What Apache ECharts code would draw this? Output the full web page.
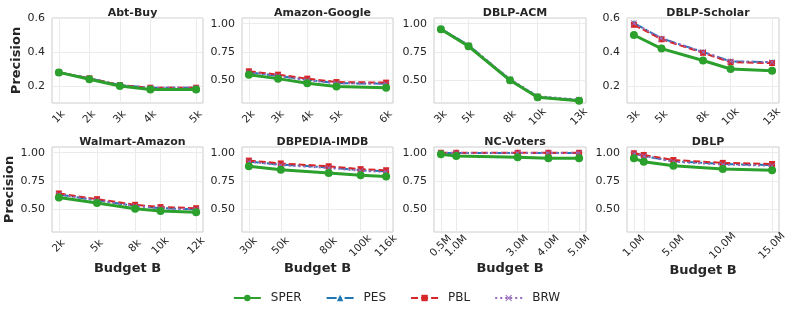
<!DOCTYPE html>
<html><head><meta charset="utf-8">
<script src="https://cdn.jsdelivr.net/npm/echarts@6/dist/echarts.min.js"></script>
<style>html,body{margin:0;padding:0;background:#fff}#c{width:793px;height:312px}</style>
</head><body><div id="c"></div>
<script>
const datasets = ['Abt-Buy','Amazon-Google','DBLP-ACM','DBLP-Scholar','Walmart-Amazon','DBPEDIA-IMDB','NC-Voters','DBLP'];
const budgets = [
  [1,2,3,4,5.5],
  [2,3,4,5,6.7],
  [3,5,8,10,13],
  [3,5,8,10,13],
  [2,5,8,10,12.8],
  [30,50,80,100,116],
  [0.5,1,3,4,5],
  [1,2,5,10,15]
];
const tickLabels = [
  ['1k','2k','3k','4k','5k'],
  ['2k','3k','4k','5k','6k'],
  ['3k','5k','8k','10k','13k'],
  ['3k','5k','8k','10k','13k'],
  ['2k','5k','8k','10k','12k'],
  ['30k','50k','80k','100k','116k'],
  ['0.5M','1.0M','3.0M','4.0M','5.0M'],
  ['1.0M','2.0M','5.0M','10.0M','15.0M']
];
const sper = [
  [0.28,0.24,0.20,0.18,0.18],
  [0.55,0.515,0.475,0.445,0.435],
  [0.95,0.80,0.50,0.35,0.32],
  [0.50,0.42,0.35,0.30,0.29],
  [0.605,0.555,0.505,0.485,0.475],
  [0.88,0.85,0.82,0.80,0.79],
  [0.985,0.97,0.96,0.95,0.95],
  [0.95,0.92,0.885,0.855,0.845]
];
const pes = [
  [0.28,0.245,0.205,0.19,0.19],
  [0.57,0.54,0.505,0.475,0.47],
  [0.955,0.81,0.505,0.355,0.325],
  [0.57,0.48,0.40,0.345,0.34],
  [0.63,0.58,0.53,0.51,0.50],
  [0.92,0.895,0.87,0.845,0.835],
  [0.998,0.998,0.998,0.998,0.998],
  [0.99,0.97,0.925,0.90,0.89]
];
const pbl = [
  [0.28,0.245,0.205,0.19,0.19],
  [0.58,0.55,0.515,0.485,0.48],
  [0.95,0.80,0.50,0.35,0.32],
  [0.56,0.475,0.395,0.34,0.335],
  [0.64,0.59,0.54,0.52,0.51],
  [0.93,0.905,0.88,0.855,0.845],
  [0.999,0.999,0.999,0.999,0.999],
  [0.995,0.98,0.935,0.91,0.90]
];
const brw = [
  [0.28,0.245,0.205,0.19,0.19],
  [0.57,0.54,0.50,0.475,0.47],
  [0.955,0.81,0.51,0.36,0.33],
  [0.57,0.48,0.40,0.345,0.34],
  [0.63,0.58,0.53,0.51,0.50],
  [0.92,0.89,0.865,0.84,0.83],
  [0.998,0.998,0.998,0.998,0.998],
  [0.99,0.97,0.92,0.895,0.885]
];
const yRanges = [[0.1,0.6],[0.3,1.05],[0.3,1.05],[0.1,0.6],[0.3,1.05],[0.3,1.05],[0.3,1.05],[0.3,1.05]];
const yTicks = [[0.2,0.4,0.6],[0.5,0.75,1.0],[0.5,0.75,1.0],[0.2,0.4,0.6],[0.5,0.75,1.0],[0.5,0.75,1.0],[0.5,0.75,1.0],[0.5,0.75,1.0]];
const yDecimals = [1,2,2,1,2,2,2,2];

const FONT = 'DejaVu Sans';
const TXT = '#262626';
const colLeft = [52, 242, 434, 627];
const colWidth = [151, 151, 152, 152];
const rowTop = [18, 147];
const H = 85;

const methods = [
  {name:'SPER', vals:sper, color:'#2ca02c', width:3, type:'solid', symbol:'circle', size:8, z:5},
  {name:'PES', vals:pes, color:'#1f77b4', width:2, type:[10,3,2,3], symbol:'triangle', size:6, z:3},
  {name:'PBL', vals:pbl, color:'#d62728', width:2, type:[7,3], symbol:'rect', size:6, z:3},
  {name:'BRW', vals:brw, color:'#9467bd', width:2, type:[2,3], symbol:'path://M0,1 L1,0 L5,4 L9,0 L10,1 L6,5 L10,9 L9,10 L5,6 L1,10 L0,9 L4,5 Z', size:6, z:4}
];

const grids=[], xAxes=[], yAxes=[], titles=[], series=[];
for (let i=0;i<8;i++){
  const r = Math.floor(i/4), c = i%4;
  grids.push({left:colLeft[c], top:rowTop[r], width:colWidth[c], height:H, show:true, borderColor:'#cccccc', borderWidth:1, backgroundColor:'transparent'});
  titles.push({text:datasets[i], left:colLeft[c]+colWidth[c]/2, top:rowTop[r]-15, textAlign:'center',
    textStyle:{fontFamily:FONT, fontSize:11, fontWeight:'bold', color:TXT}});
  const b = budgets[i];
  const span = b[b.length-1]-b[0];
  xAxes.push({type:'value', gridIndex:i, min:b[0]-0.05*span, max:b[b.length-1]+0.05*span,
    axisLine:{show:false}, axisTick:{show:false, customValues:b},
    splitLine:{show:true, lineStyle:{color:'#ebebeb', width:1}},
    axisLabel:{customValues:b, interval:0, hideOverlap:false, showMinLabel:true, showMaxLabel:true,
      rotate:45, align:'center', verticalAlign:'middle', margin:14,
      fontFamily:FONT, fontSize:10.5, color:TXT,
      formatter:(v)=>{ let k=0, d=Infinity; b.forEach((x,j)=>{ if(Math.abs(x-v)<d){d=Math.abs(x-v);k=j;} }); return tickLabels[i][k]; }},
    name: r===1 ? 'Budget B' : '', nameLocation:'middle', nameGap:30,
    nameTextStyle:{fontFamily:FONT, fontSize:13, fontWeight:'bold', color:TXT}
  });
  const dec = yDecimals[i];
  yAxes.push({type:'value', gridIndex:i, min:yRanges[i][0], max:yRanges[i][1],
    axisLine:{show:false}, axisTick:{show:false, customValues:yTicks[i]},
    splitLine:{show:true, lineStyle:{color:'#ebebeb', width:1}},
    axisLabel:{customValues:yTicks[i], margin:7, fontFamily:FONT, fontSize:11, color:TXT,
      showMinLabel:true, showMaxLabel:true, formatter:(v)=>v.toFixed(dec)},
    name: c===0 ? 'Precision' : '', nameLocation:'middle', nameGap:24, nameRotate:90,
    nameTextStyle:{fontFamily:FONT, fontSize:13, fontWeight:'bold', color:TXT}
  });
  methods.forEach(m=>{
    series.push({name:m.name, type:'line', xAxisIndex:i, yAxisIndex:i,
      data:b.map((x,j)=>[x, m.vals[i][j]]),
      symbol:m.symbol, symbolSize:m.size, showSymbol:true, z:m.z,
      lineStyle:{color:m.color, width:m.width, type:m.type},
      itemStyle:{color:m.color, borderWidth:0},
      emphasis:{disabled:true}, animation:false});
  });
}

const chart = echarts.init(document.getElementById('c'), null, {renderer:'canvas'});
chart.setOption({
  backgroundColor:'#ffffff',
  animation:false,
  title:titles,
  grid:grids, xAxis:xAxes, yAxis:yAxes, series:series,
  legend:{data:['SPER','PES','PBL','BRW'], left:'center', top:287, itemWidth:27, itemHeight:8, itemGap:24,
    textStyle:{fontFamily:FONT, fontSize:12, color:TXT, padding:[0,0,0,5]}}
});
</script></body></html>
